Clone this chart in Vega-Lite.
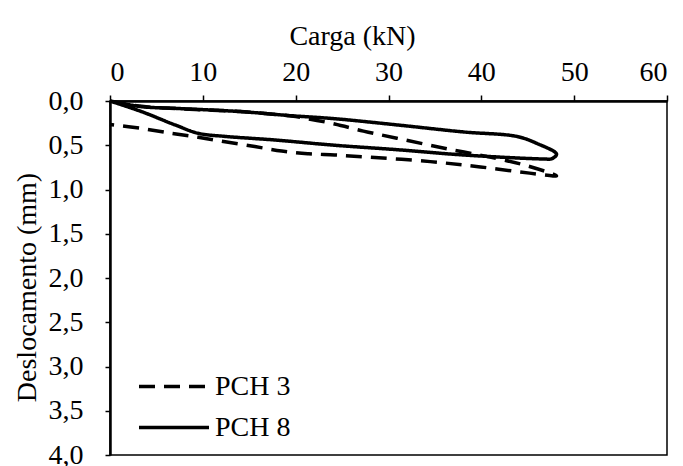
{
  "$schema": "https://vega.github.io/schema/vega-lite/v6.json",
  "width": 557,
  "height": 354,
  "autosize": {"type": "none"},
  "padding": {"left": 110, "top": 101, "right": 16, "bottom": 11},
  "background": "white",
  "config": {
    "font": "Liberation Serif",
    "view": {"stroke": "black", "strokeWidth": 1.5},
    "axis": {"grid": false, "domainColor": "black", "domainWidth": 2.5, "tickColor": "black", "tickWidth": 1.5, "labelColor": "black", "titleColor": "black", "labelFont": "Liberation Serif", "titleFont": "Liberation Serif", "labelFontSize": 28, "titleFontSize": 28, "titleFontWeight": "normal"}
  },
  "data": {"values": [
    {"s": "PCH 3", "o": 1, "kN": 0, "mm": 0},
    {"s": "PCH 3", "o": 2, "kN": 3.4, "mm": 0.06},
    {"s": "PCH 3", "o": 3, "kN": 7, "mm": 0.085},
    {"s": "PCH 3", "o": 4, "kN": 14.1, "mm": 0.12},
    {"s": "PCH 3", "o": 5, "kN": 19.5, "mm": 0.17},
    {"s": "PCH 3", "o": 6, "kN": 21.3, "mm": 0.2},
    {"s": "PCH 3", "o": 7, "kN": 24.2, "mm": 0.26},
    {"s": "PCH 3", "o": 8, "kN": 27.3, "mm": 0.34},
    {"s": "PCH 3", "o": 9, "kN": 30.9, "mm": 0.42},
    {"s": "PCH 3", "o": 10, "kN": 36.3, "mm": 0.54},
    {"s": "PCH 3", "o": 11, "kN": 41.7, "mm": 0.65},
    {"s": "PCH 3", "o": 12, "kN": 45.2, "mm": 0.74},
    {"s": "PCH 3", "o": 13, "kN": 48.1, "mm": 0.845},
    {"s": "PCH 3", "o": 14, "kN": 45.2, "mm": 0.815},
    {"s": "PCH 3", "o": 15, "kN": 39.9, "mm": 0.745},
    {"s": "PCH 3", "o": 16, "kN": 34.5, "mm": 0.685},
    {"s": "PCH 3", "o": 17, "kN": 27.3, "mm": 0.63},
    {"s": "PCH 3", "o": 18, "kN": 24.2, "mm": 0.61},
    {"s": "PCH 3", "o": 19, "kN": 21.3, "mm": 0.595},
    {"s": "PCH 3", "o": 20, "kN": 18.5, "mm": 0.565},
    {"s": "PCH 3", "o": 21, "kN": 15.6, "mm": 0.515},
    {"s": "PCH 3", "o": 22, "kN": 12.4, "mm": 0.46},
    {"s": "PCH 3", "o": 23, "kN": 9.5, "mm": 0.41},
    {"s": "PCH 3", "o": 24, "kN": 6.6, "mm": 0.365},
    {"s": "PCH 3", "o": 25, "kN": 3.4, "mm": 0.31},
    {"s": "PCH 3", "o": 26, "kN": 0, "mm": 0.265},
    {"s": "PCH 8", "o": 1, "kN": 0, "mm": 0},
    {"s": "PCH 8", "o": 2, "kN": 3.4, "mm": 0.064},
    {"s": "PCH 8", "o": 3, "kN": 7, "mm": 0.083},
    {"s": "PCH 8", "o": 4, "kN": 14.1, "mm": 0.12},
    {"s": "PCH 8", "o": 5, "kN": 19.5, "mm": 0.166},
    {"s": "PCH 8", "o": 6, "kN": 24.2, "mm": 0.2},
    {"s": "PCH 8", "o": 7, "kN": 30.9, "mm": 0.27},
    {"s": "PCH 8", "o": 8, "kN": 38.1, "mm": 0.35},
    {"s": "PCH 8", "o": 9, "kN": 43.8, "mm": 0.4},
    {"s": "PCH 8", "o": 10, "kN": 46, "mm": 0.48},
    {"s": "PCH 8", "o": 11, "kN": 48.1, "mm": 0.6},
    {"s": "PCH 8", "o": 12, "kN": 47.6, "mm": 0.652},
    {"s": "PCH 8", "o": 13, "kN": 46.7, "mm": 0.655},
    {"s": "PCH 8", "o": 14, "kN": 38.1, "mm": 0.61},
    {"s": "PCH 8", "o": 15, "kN": 30.9, "mm": 0.55},
    {"s": "PCH 8", "o": 16, "kN": 24.2, "mm": 0.5},
    {"s": "PCH 8", "o": 17, "kN": 17.7, "mm": 0.44},
    {"s": "PCH 8", "o": 18, "kN": 12.4, "mm": 0.4},
    {"s": "PCH 8", "o": 19, "kN": 9.5, "mm": 0.365},
    {"s": "PCH 8", "o": 20, "kN": 7, "mm": 0.27},
    {"s": "PCH 8", "o": 21, "kN": 3.4, "mm": 0.12},
    {"s": "PCH 8", "o": 22, "kN": 0, "mm": 0}
  ]},
  "mark": {"type": "line", "color": "black", "strokeWidth": 3.5, "interpolate": "catmull-rom"},
  "encoding": {
    "x": {"field": "kN", "type": "quantitative", "scale": {"domain": [0, 60], "nice": false}, "axis": {"orient": "top", "values": [0, 10, 20, 30, 40, 50, 60], "title": "Carga (kN)", "tickSize": 6, "labelPadding": 9, "titlePadding": 8, "titleX": 242, "titleAlign": "center"}},
    "y": {"field": "mm", "type": "quantitative", "scale": {"domain": [0, 4], "reverse": true, "nice": false}, "axis": {"values": [0, 0.5, 1, 1.5, 2, 2.5, 3, 3.5, 4], "labelExpr": "replace(format(datum.value, '.1f'), '.', ',')", "title": "Deslocamento (mm)", "tickSize": 5, "labelPadding": 22, "titlePadding": 7, "titleY": 186}},
    "order": {"field": "o", "type": "quantitative"},
    "detail": {"field": "s"},
    "strokeDash": {"field": "s", "type": "nominal", "scale": {"domain": ["PCH 3", "PCH 8"], "range": [[16, 9], [1, 0]]}, "legend": {"title": null, "orient": "none", "legendX": 27, "legendY": 265, "symbolType": "stroke", "symbolSize": 4900, "symbolStrokeWidth": 3.5, "symbolStrokeColor": "black", "labelFontSize": 28, "labelColor": "black", "labelFont": "Liberation Serif", "labelOffset": 4, "rowPadding": 0, "clipHeight": 41, "padding": 0}}
  }
}
